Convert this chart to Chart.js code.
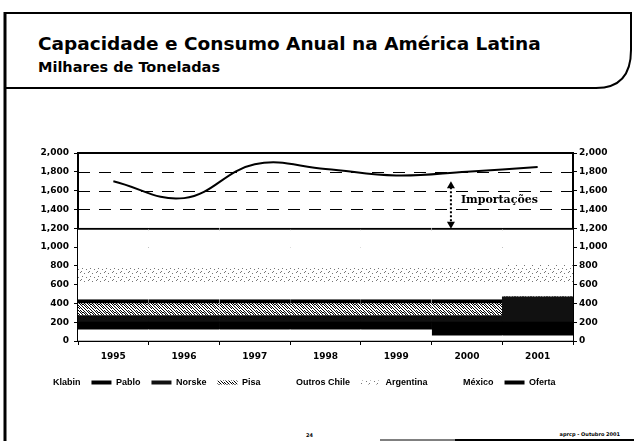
<!DOCTYPE html>
<html>
<head>
<meta charset="utf-8">
<script src="https://cdn.jsdelivr.net/npm/chart.js@4"></script>
<style>
  html, body { margin: 0; padding: 0; background: #fff; }
  #page { position: relative; width: 634px; height: 441px; overflow: hidden; }
  #deco { position: absolute; left: 0; top: 0; }
  #box { position: absolute; left: 0; top: 0; width: 634px; height: 441px; }
</style>
</head>
<body>
<div id="page">
  <svg id="deco" width="634" height="441" xmlns="http://www.w3.org/2000/svg">
    <path d="M5,13 H631 V50 Q631,88 596,88 H5" fill="none" stroke="#000" stroke-width="2"/>
    <line x1="5" y1="12" x2="5" y2="441" stroke="#000" stroke-width="3"/>
    <text x="38" y="50" font-family="DejaVu Sans" font-weight="bold" font-size="18.5">Capacidade e Consumo Anual na América Latina</text>
    <text x="38" y="72" font-family="DejaVu Sans" font-weight="bold" font-size="14.5">Milhares de Toneladas</text>
    <text x="306" y="437" font-family="DejaVu Sans" font-weight="bold" font-size="5">24</text>
    <text x="620" y="436" text-anchor="end" font-family="DejaVu Sans" font-weight="bold" font-size="5">aprcp - Outubro 2001</text>
    <line x1="380" y1="440" x2="634" y2="440" stroke="#000" stroke-width="1"/>
    <line x1="455" y1="440" x2="634" y2="440" stroke="#000" stroke-width="2"/>
  </svg>
  <div id="box"><canvas id="grafico"></canvas></div>
</div>
<script>
const anos = ['1995', '1996', '1997', '1998', '1999', '2000', '2001'];
const klabin      = [120, 120, 120, 120, 120, 55, 55];
const pablo       = [80, 80, 80, 80, 80, 145, 145];
const norske      = [70, 70, 70, 70, 70, 70, 270];
const pisa        = [170, 170, 170, 170, 170, 170, 0];
const outrosChile = [170, 170, 170, 170, 170, 170, 150];
const argentina   = [185, 185, 185, 185, 185, 185, 185];
const mexico      = [405, 405, 405, 405, 405, 405, 395];
const oferta      = [1700, 1520, 1880, 1830, 1760, 1800, 1850];

// pontilhado para imitar a trama do original
function trama(pontos, tam, cor) {
  const c = document.createElement('canvas');
  c.width = tam; c.height = tam;
  const g = c.getContext('2d');
  g.fillStyle = '#fff';
  g.fillRect(0, 0, tam, tam);
  g.fillStyle = cor;
  pontos.forEach(p => g.fillRect(p[0], p[1], 1, 1));
  return g.createPattern(c, 'repeat');
}
const tramaPisa = trama([
  [0,0],[3,0],[5,0],[1,1],[4,1],[6,1],[2,2],[5,2],[7,2],[0,3],[3,3],[6,3],
  [1,4],[4,4],[7,4],[2,5],[5,5],[0,6],[3,6],[6,6],[1,7],[4,7],[7,7],[2,0]
], 8, '#000');
const tramaArg = trama([[0,0],[4,1],[2,4],[6,5],[1,7]], 8, '#777');

const fonte = { family: 'DejaVu Sans', weight: 'bold', size: 9 };

const grade = {
  id: 'grade',
  beforeDatasetsDraw(chart) {
    const { ctx, chartArea: a, scales: { y } } = chart;
    ctx.save();
    ctx.strokeStyle = '#000';
    ctx.lineWidth = 1;
    ctx.setLineDash([12, 9]);
    for (let v = 200; v < 2000; v += 200) {
      const py = Math.round(y.getPixelForValue(v)) + 0.5;
      ctx.beginPath(); ctx.moveTo(a.left, py); ctx.lineTo(a.right, py); ctx.stroke();
    }
    ctx.setLineDash([]);
    ctx.lineWidth = 2;
    const top = y.getPixelForValue(2000);
    ctx.beginPath(); ctx.moveTo(a.left, top); ctx.lineTo(a.right, top); ctx.stroke();
    ctx.restore();
  }
};

const importacoes = {
  id: 'importacoes',
  afterDatasetsDraw(chart) {
    const { ctx, scales: { x, y } } = chart;
    const px = x.getPixelForValue(5) - 16;
    const y1 = y.getPixelForValue(1700);
    const y2 = y.getPixelForValue(1195);
    ctx.save();
    ctx.strokeStyle = '#000';
    ctx.fillStyle = '#000';
    ctx.lineWidth = 2;
    ctx.setLineDash([2, 2]);
    ctx.beginPath(); ctx.moveTo(px, y1 + 6); ctx.lineTo(px, y2 - 6); ctx.stroke();
    ctx.setLineDash([]);
    ctx.beginPath(); ctx.moveTo(px, y1); ctx.lineTo(px - 4, y1 + 7); ctx.lineTo(px + 4, y1 + 7); ctx.closePath(); ctx.fill();
    ctx.beginPath(); ctx.moveTo(px, y2); ctx.lineTo(px - 4, y2 - 7); ctx.lineTo(px + 4, y2 - 7); ctx.closePath(); ctx.fill();
    ctx.font = 'bold 11px "DejaVu Serif"';
    ctx.textBaseline = 'middle';
    ctx.fillText('Importações', px + 10, y.getPixelForValue(1500));
    ctx.restore();
  }
};

const barra = (label, data, cor, extra) => Object.assign({
  label: label,
  data: data,
  backgroundColor: cor,
  borderWidth: 0,
  categoryPercentage: 1,
  barPercentage: 1
}, extra || {});

const config = {
  type: 'bar',
  data: {
    labels: anos,
    datasets: [
      barra('Klabin', klabin, '#fff'),
      barra('Pablo', pablo, '#000'),
      barra('Norske', norske, '#111'),
      barra('Pisa', pisa, tramaPisa, { borderColor: '#000', borderWidth: { top: 4 } }),
      barra('Outros Chile', outrosChile, '#fff'),
      barra('Argentina', argentina, tramaArg),
      barra('México', mexico, '#fff', { borderColor: '#000', borderWidth: { top: 2 } }),
      {
        type: 'line',
        label: 'Oferta',
        data: oferta,
        yAxisID: 'y2',
        borderColor: '#000',
        backgroundColor: '#000',
        borderWidth: 2,
        pointRadius: 0,
        tension: 0.4,
        order: -1
      }
    ]
  },
  options: {
    responsive: true,
    maintainAspectRatio: false,
    animation: false,
    layout: { padding: { top: 153, left: -24, right: 26, bottom: 44 } },
    plugins: {
      tooltip: { enabled: false },
      legend: {
        position: 'bottom',
        labels: {
          color: '#000',
          font: { family: 'Liberation Sans', weight: 'bold', size: 9 },
          boxWidth: 20,
          boxHeight: 4,
          padding: 11,
          sort: (a, b) => a.datasetIndex - b.datasetIndex,
          generateLabels(chart) {
            const itens = Chart.defaults.plugins.legend.labels.generateLabels(chart);
            itens.forEach(it => { it.lineWidth = 0; it.strokeStyle = 'rgba(0,0,0,0)'; });
            return itens;
          }
        }
      }
    },
    scales: {
      x: {
        stacked: true,
        grid: { offset: true, drawOnChartArea: false, tickLength: 4, color: '#000' },
        border: { color: '#000', width: 2 },
        ticks: { color: '#000', font: fonte, padding: 6, maxRotation: 0 },
        afterFit(s) { s.height = 26; }
      },
      y: {
        stacked: true,
        min: 0,
        max: 2000,
        grid: { drawOnChartArea: false, tickLength: 4, color: '#000' },
        border: { color: '#000', width: 2 },
        ticks: { stepSize: 200, color: '#000', font: fonte, padding: 5, callback: v => v.toLocaleString('en-US') },
        afterFit(s) { s.width = 102; }
      },
      y2: {
        position: 'right',
        min: 0,
        max: 2000,
        grid: { drawOnChartArea: false, tickLength: 4, color: '#000' },
        border: { color: '#000', width: 2 },
        ticks: { stepSize: 200, color: '#000', font: fonte, padding: 2, callback: v => v.toLocaleString('en-US') },
        afterFit(s) { s.width = 35; }
      }
    }
  },
  plugins: [grade, importacoes]
};

const myChart = new Chart(document.getElementById('grafico'), config);
</script>
</body>
</html>
